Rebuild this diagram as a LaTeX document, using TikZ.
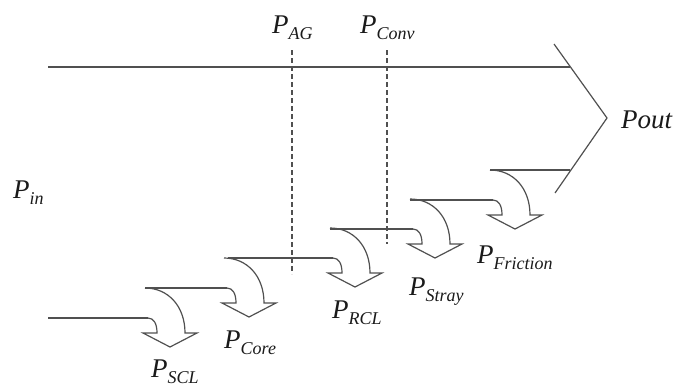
\documentclass[tikz,border=0pt]{standalone}
\usepackage{fontspec}
\setmainfont{Liberation Serif}
\definecolor{linegray}{HTML}{505050}
\definecolor{textdark}{HTML}{1A1A1A}
\newcommand{\psub}[1]{\textit{P}\raisebox{-6pt}{\fontsize{18}{18}\selectfont\textit{#1}}}
\tikzset{
  flowline/.style={draw=linegray, line width=1.2pt, line join=miter},
  dashline/.style={draw=linegray, line width=1.1pt, dash pattern=on 5pt off 3pt},
  lbl/.style={anchor=base west, inner sep=0pt, text=textdark, font=\fontsize{27}{27}\selectfont\itshape}
}
\begin{document}
\begin{tikzpicture}[x=1pt, y=-1pt]
\useasboundingbox (0,0) rectangle (674,386);
% main band top and output head
\draw[flowline] (48,67) -- (570,67);
\draw[flowline] (554,44) -- (607,118) -- (555,193);
\draw[flowline] (490,170) -- (570,170);
% dashed separators
\draw[dashline] (292,50) -- (292,274);
\draw[dashline] (387,50) -- (387,244);
% loss steps: start x / end x / y
\foreach \s/\e/\y in {48/148/318, 145/227/288, 228/333/258, 330/413/229, 410/493/200}{
  \draw[flowline] (\s,\y) -- (\e,\y);
  \draw[flowline] (\e,\y) .. controls ({\e+6},\y) and ({\e+9},{\y+6}) .. ({\e+9},{\y+15})
     -- ({\e-5},{\y+15}) -- ({\e+22},{\y+29}) -- ({\e+49},{\y+15}) -- ({\e+37},{\y+15})
     .. controls ({\e+37},{\y-12}) and ({\e+20},{\y-30}) .. ({\e-3},{\y-30});
}
% labels
\node[lbl] (pag) at (272,33) {\psub{AG}};
\node[lbl] (pconv) at (360,33) {\psub{Conv}};
\node[lbl] (pin) at (13,198) {\psub{in}};
\node[lbl] (pout) at (621,128) {Pout};
\node[lbl] (pscl) at (151,377) {\psub{SCL}};
\node[lbl] (pcore) at (224,348) {\psub{Core}};
\node[lbl] (prcl) at (332,318) {\psub{RCL}};
\node[lbl] (pstray) at (409,295) {\psub{Stray}};
\node[lbl] (pfric) at (477,263) {\psub{Friction}};
\end{tikzpicture}
\end{document}
